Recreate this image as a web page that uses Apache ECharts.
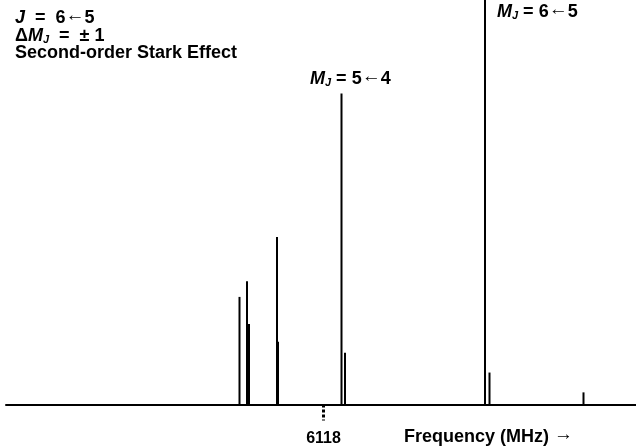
<!DOCTYPE html>
<html>
<head>
<meta charset="utf-8">
<script src="https://cdn.jsdelivr.net/npm/echarts@6/dist/echarts.min.js"></script>
<style>
  html, body { margin: 0; padding: 0; background: #fff; }
  #chart { width: 636px; height: 447px; }
</style>
</head>
<body>
<div id="chart"></div>
<script>
// line positions (MHz) and relative intensities
const freqs = [6116.32, 6116.47, 6116.51, 6117.07, 6117.09, 6118.36, 6118.43, 6121.23, 6121.32, 6123.20];
const intens = [26.6, 30.5, 19.9, 41.4, 15.5, 76.9, 12.8, 105, 7.9, 3.0];
const tickValues = [6118];

const font = '"Liberation Sans", Arial, sans-serif';

const rich = {
    i: {fontFamily: font, fontWeight: 'bold', fontStyle: 'italic', fontSize: 18, color: '#000'},
    sub: {fontFamily: font, fontWeight: 'bold', fontStyle: 'italic', fontSize: 11, color: '#000', padding: [8, 0, 0, 0]},
    b: {fontFamily: font, fontWeight: 'bold', fontSize: 18, color: '#000'},
    arr: {fontFamily: font, fontSize: 19, color: '#000', padding: [0, 0, 4, 0]},
};

function label(x, y, text) {
    return {
        type: 'text', x: x, y: y,
        style: {text: text, rich: rich, align: 'left', verticalAlign: 'middle'},
    };
}

const chart = echarts.init(document.getElementById('chart'));

chart.setOption({
    animation: false,
    backgroundColor: '#fff',
    grid: {left: 6, right: 0, top: 0, bottom: 42.5},
    xAxis: {
        type: 'value',
        min: 6111.65,
        max: 6124.25,
        splitLine: {show: false},
        axisLine: {lineStyle: {color: '#000', width: 2}},
        axisTick: {
            customValues: tickValues,
            length: 16,
            lineStyle: {color: '#000', width: 3, type: [3, 2]},
        },
        axisLabel: {
            customValues: tickValues,
            margin: 26,
            color: '#000',
            fontFamily: font,
            fontWeight: 'bold',
            fontSize: 16,
            formatter: v => String(v),
        },
    },
    yAxis: {type: 'value', min: 0, max: 100, show: false},
    series: [{
        type: 'bar',
        barWidth: 2,
        itemStyle: {color: '#000'},
        data: freqs.map((f, i) => [f, intens[i]]),
    }],
    graphic: [
        label(15, 18, '{i|J}{b|  =  6}{arr|←}{b|5}'),
        label(15, 36, '{b|Δ}{i|M}{sub|J}{b|  =  ± 1}'),
        label(15, 53, '{b|Second-order Stark Effect}'),
        label(310, 79, '{i|M}{sub|J}{b| = 5}{arr|←}{b|4}'),
        label(497, 12, '{i|M}{sub|J}{b| = 6}{arr|←}{b|5}'),
        label(404, 437, '{b|Frequency (MHz) }{arr|→}'),
    ],
});
</script>
</body>
</html>
